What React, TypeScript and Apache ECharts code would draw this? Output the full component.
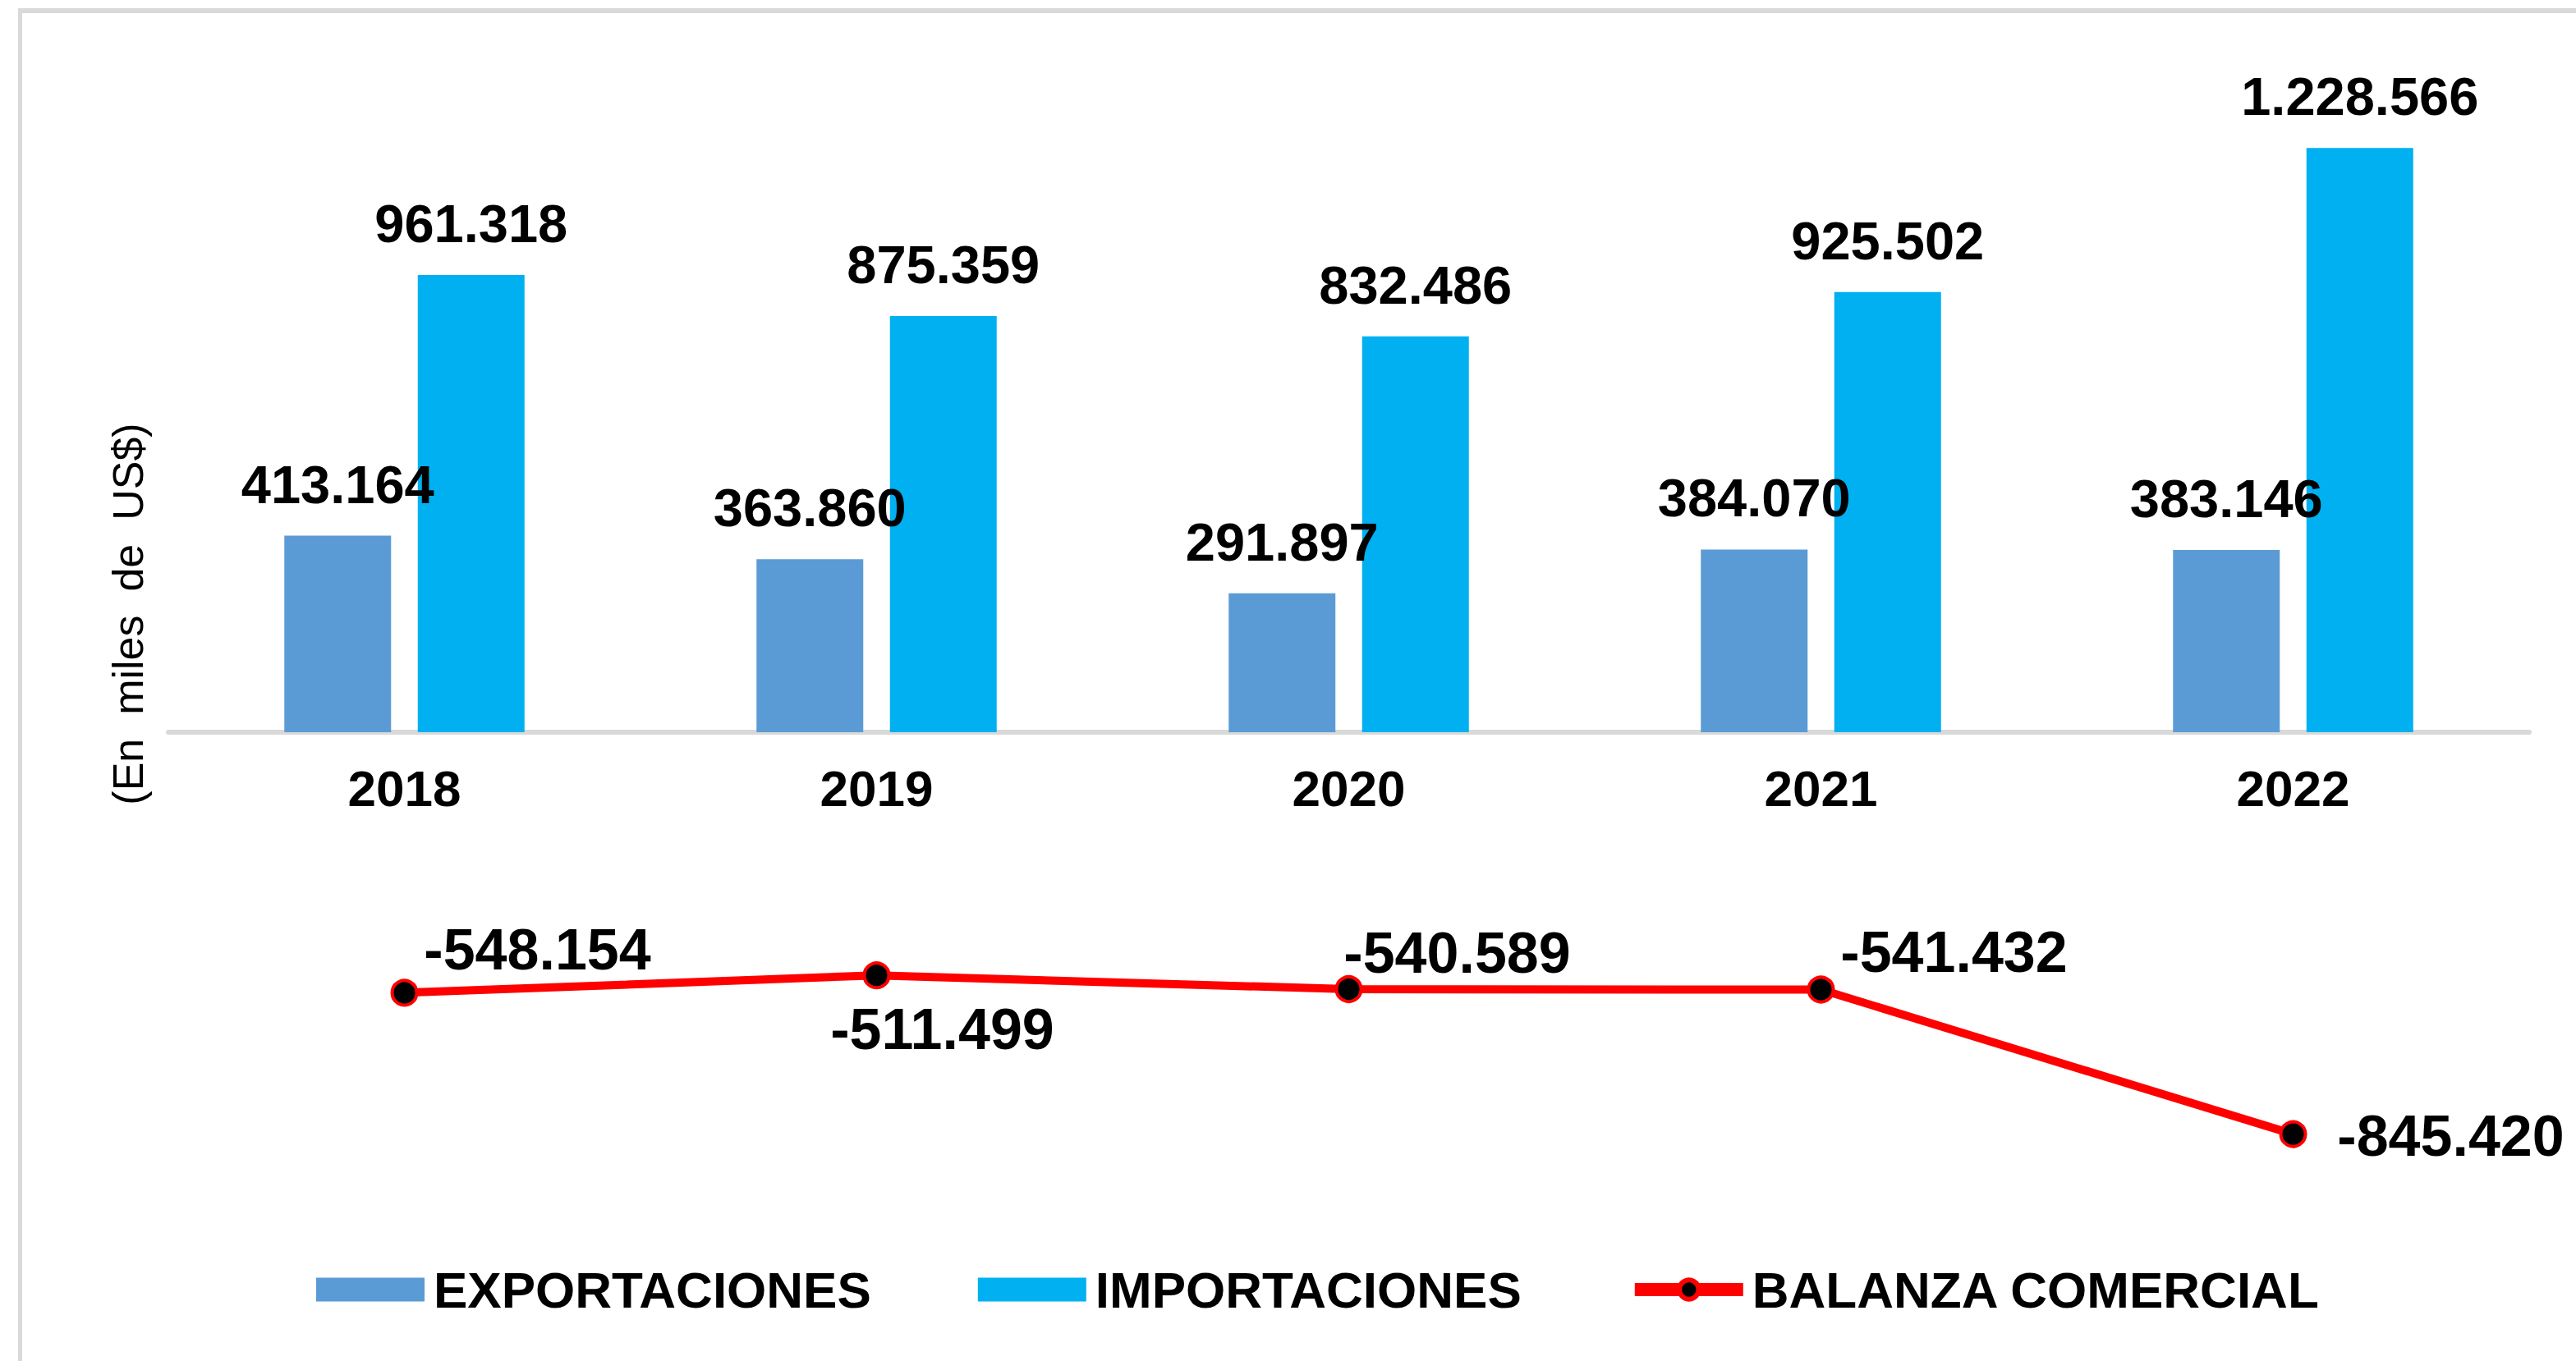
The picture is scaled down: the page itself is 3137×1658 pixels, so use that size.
import React, { useEffect, useRef } from "react";
import * as echarts from "echarts";

const years = ["2018", "2019", "2020", "2021", "2022"];
const exportaciones = [413164, 363860, 291897, 384070, 383146];
const importaciones = [961318, 875359, 832486, 925502, 1228566];
const balanza = [-548154, -511499, -540589, -541432, -845420];
const balanzaLabelOffsets: [number, number][] = [
  [162, -52],
  [80, 66],
  [132, -44],
  [162, -46],
  [192, 2],
];

const FONT = "'Liberation Sans', Arial, sans-serif";

const fmt = (v: number) => {
  const s = Math.abs(Math.round(v)).toString().replace(/\B(?=(\d{3})+(?!\d))/g, ".");
  return (v < 0 ? "-" : "") + s;
};

const Y_MIN = -1200000;
const Y_MAX = 1400000;
const GRID_TOP = 81;
const GRID_BOTTOM = 71;
const H = 1658;

export default function App() {
  const ref = useRef<HTMLDivElement>(null);
  useEffect(() => {
    if (!ref.current) return;
    const chart = echarts.init(ref.current, undefined, { renderer: "svg" });
    const gridH = H - GRID_TOP - GRID_BOTTOM;
    const zeroFromBottom = (0 - Y_MIN) / (Y_MAX - Y_MIN) * gridH;
    const barLabel = {
      show: true,
      position: "top",
      distance: 30,
      color: "#000",
      fontSize: 65,
      fontWeight: "bold",
      fontFamily: FONT,
      formatter: (p: any) => fmt(p.value),
    };
    chart.setOption({
      animation: false,
      backgroundColor: "#fff",
      textStyle: { fontFamily: FONT },
      graphic: [
        { type: "line", shape: { x1: 22, y1: 13, x2: 3137, y2: 13 }, style: { stroke: "#d9d9d9", lineWidth: 6 } },
        { type: "line", shape: { x1: 24.5, y1: 10, x2: 24.5, y2: 1658 }, style: { stroke: "#d9d9d9", lineWidth: 5 } },
        {
          type: "text",
          x: 156,
          y: 748,
          rotation: Math.PI / 2,
          style: {
            text: "(En  miles  de  US$)",
            fontSize: 52,
            fontFamily: FONT,
            fill: "#000",
            align: "center",
            verticalAlign: "middle",
          },
        },
      ],
      grid: {
        left: 205,
        right: 57,
        top: GRID_TOP,
        bottom: GRID_BOTTOM,
        containLabel: false,
        outerBoundsMode: "none",
      },
      legend: {
        left: 380,
        top: 1535,
        itemWidth: 132,
        itemHeight: 29,
        itemGap: 130,
        textStyle: { fontSize: 62, fontWeight: "bold", color: "#000", fontFamily: FONT, padding: [0, 0, 0, 6] },
        data: [
          { name: "EXPORTACIONES", icon: "rect" },
          { name: "IMPORTACIONES", icon: "rect" },
          {
            name: "BALANZA COMERCIAL",
            lineStyle: { width: 16 },
            itemStyle: { color: "#000", borderColor: "#ff0000", borderWidth: 6 },
          },
        ],
      },
      xAxis: {
        type: "category",
        data: years,
        position: "bottom",
        offset: -zeroFromBottom,
        axisLine: { show: true, onZero: false, lineStyle: { color: "#d9d9d9", width: 6 } },
        axisTick: { show: false },
        axisLabel: { margin: 38, fontSize: 62, fontWeight: "bold", color: "#000", fontFamily: FONT },
      },
      yAxis: {
        type: "value",
        min: Y_MIN,
        max: Y_MAX,
        axisLine: { show: false },
        axisTick: { show: false },
        axisLabel: { show: false },
        splitLine: { show: false },
      },
      series: [
        {
          name: "EXPORTACIONES",
          type: "bar",
          data: exportaciones,
          barWidth: 130,
          barGap: "25%",
          itemStyle: { color: "#5b9bd5" },
          label: barLabel,
        },
        {
          name: "IMPORTACIONES",
          type: "bar",
          data: importaciones,
          barWidth: 130,
          barGap: "25%",
          itemStyle: { color: "#00b0f0" },
          label: barLabel,
        },
        {
          name: "BALANZA COMERCIAL",
          type: "line",
          data: balanza.map((v, i) => ({
            value: v,
            label: { offset: balanzaLabelOffsets[i] },
          })),
          symbol: "circle",
          symbolSize: 30,
          lineStyle: { color: "#ff0000", width: 10 },
          itemStyle: { color: "#000", borderColor: "#ff0000", borderWidth: 4 },
          label: {
            show: true,
            position: "inside",
            color: "#000",
            fontSize: 70,
            fontWeight: "bold",
            fontFamily: FONT,
            formatter: (p: any) => fmt(p.value),
          },
          z: 5,
        },
      ],
    });
    return () => chart.dispose();
  }, []);
  return (
    <div
      ref={ref}
      style={{ position: "fixed", left: 0, top: 0, width: 3137, height: 1658 }}
    />
  );
}
